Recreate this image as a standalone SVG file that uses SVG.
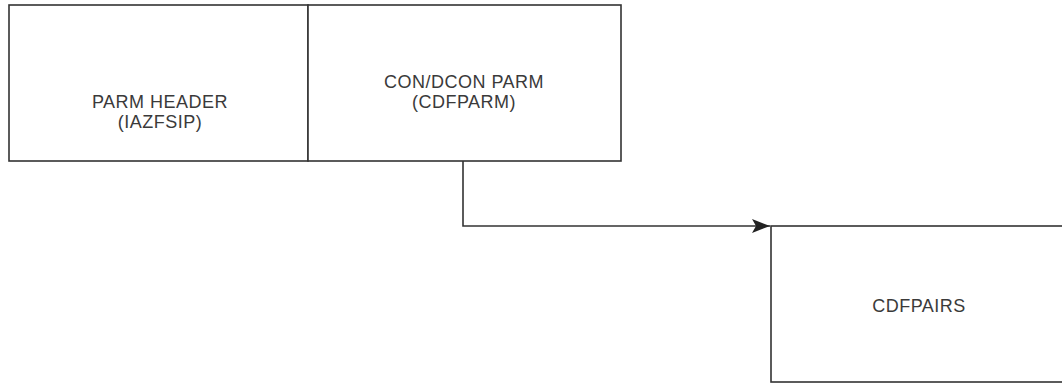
<svg xmlns="http://www.w3.org/2000/svg" width="1062" height="383" viewBox="0 0 1062 383">
  <style>
    .box { fill: #ffffff; stroke: #333333; stroke-width: 1.6; }
    .lbl { font-family: "Liberation Sans", Arial, sans-serif; font-size: 18px; fill: #3a3a3a; text-anchor: middle; letter-spacing: 0.5px; }
    .conn { fill: none; stroke: #333333; stroke-width: 1.6; }
  </style>
  <defs>
    <marker id="arrow" markerWidth="18" markerHeight="14" refX="18" refY="7" orient="auto" markerUnits="userSpaceOnUse">
      <path d="M0,0 L18,7 L0,14 L4,7 Z" fill="#222222"/>
    </marker>
  </defs>
  <g id="node-parm-header">
    <rect class="box" x="9" y="5" width="299" height="156"/>
    <text class="lbl" x="160" y="108">PARM HEADER</text>
    <text class="lbl" x="160" y="128">(IAZFSIP)</text>
  </g>
  <g id="node-condcon-parm">
    <rect class="box" x="308" y="5" width="313" height="156"/>
    <text class="lbl" x="464" y="88">CON/DCON PARM</text>
    <text class="lbl" x="464" y="108">(CDFPARM)</text>
  </g>
  <g id="node-cdfpairs">
    <rect class="box" x="771" y="226" width="300" height="156"/>
    <text class="lbl" x="919" y="312">CDFPAIRS</text>
  </g>
  <g id="connectors">
    <polyline class="conn" points="463,161 463,226 770,226" marker-end="url(#arrow)"/>
  </g>
</svg>
